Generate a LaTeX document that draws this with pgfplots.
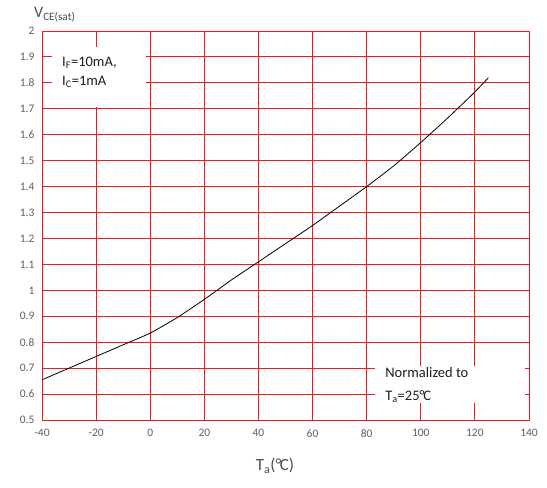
\documentclass[border=0pt]{standalone}
\usepackage{fontspec}
\setmainfont{Carlito}
\usepackage{pgfplots}
\pgfplotsset{compat=1.18}
\definecolor{gridred}{RGB}{255,20,20}
\definecolor{ticklab}{RGB}{95,95,95}
\definecolor{txt}{RGB}{30,30,30}
\newcommand{\degC}{\textdegree\kern-0.08em C}
\begin{document}
\begin{tikzpicture}[x=1pt,y=1pt]
\path[use as bounding box] (0,0) rectangle (547,488);
\begin{axis}[
  at={(42pt,68pt)}, anchor=south west,
  width=487pt, height=389pt, scale only axis,
  xmin=-40, xmax=140, ymin=0.5, ymax=2,
  xtick={-40,-20,0,20,40,60,80,100,120,140},
  xticklabels={-40,-20,0,20,40,60,80,100,120,140},
  ytick={0.5,0.6,0.7,0.8,0.9,1,1.1,1.2,1.3,1.4,1.5,1.6,1.7,1.8,1.9,2},
  yticklabels={0.5,0.6,0.7,0.8,0.9,1,1.1,1.2,1.3,1.4,1.5,1.6,1.7,1.8,1.9,2},
  grid=major,
  major grid style={gridred, line width=0.9pt},
  axis line style={gridred, line width=0.9pt},
  tick style={draw=none},
  ticklabel style={font=\fontsize{11.5}{13}\selectfont, text=ticklab},
  yticklabel style={anchor=east, xshift=-4pt},
  xticklabel style={anchor=north, yshift=-6pt},
  clip=false,
]
\addplot[black, line width=0.8pt, smooth, tension=0.3] coordinates {
(-40,0.655) (-30,0.70) (-20,0.745) (-10,0.79) (0,0.835) (10,0.895)
(20,0.965) (30,1.04) (40,1.11) (50,1.18) (60,1.25) (70,1.325)
(80,1.40) (90,1.48) (100,1.57) (110,1.665) (120,1.765) (125,1.82)
};
\fill[white] (axis cs:-36.3,1.707) rectangle (axis cs:-1.56,1.938);
\fill[white] (axis cs:83.1,0.566) rectangle (axis cs:138.5,0.708);
\node[anchor=west, inner sep=0pt, text=txt, font=\fontsize{14.5}{16}\selectfont] at (axis cs:-32.6,1.877) {I\textsubscript{F}=10mA,};
\node[anchor=west, inner sep=0pt, text=txt, font=\fontsize{14.5}{16}\selectfont] at (axis cs:-32.6,1.803) {I\textsubscript{C}=1mA};
\node[anchor=west, inner sep=0pt, text=txt, font=\fontsize{14.5}{16}\selectfont] at (axis cs:86.8,0.685) {Normalized to};
\node[anchor=west, inner sep=0pt, text=txt, font=\fontsize{14.5}{16}\selectfont] at (axis cs:86.8,0.589) {T\textsubscript{a}=25\degC};
\end{axis}
\node[anchor=base west, inner sep=0pt, text=ticklab!80!black, font=\fontsize{16}{18}\selectfont] at (34,470) {V\textsubscript{CE(sat)}};
\node[anchor=center, inner sep=0pt, text=ticklab!80!black, font=\fontsize{17}{19}\selectfont] at (275,22) {T\textsubscript{a}(\degC)};
\end{tikzpicture}
\end{document}
